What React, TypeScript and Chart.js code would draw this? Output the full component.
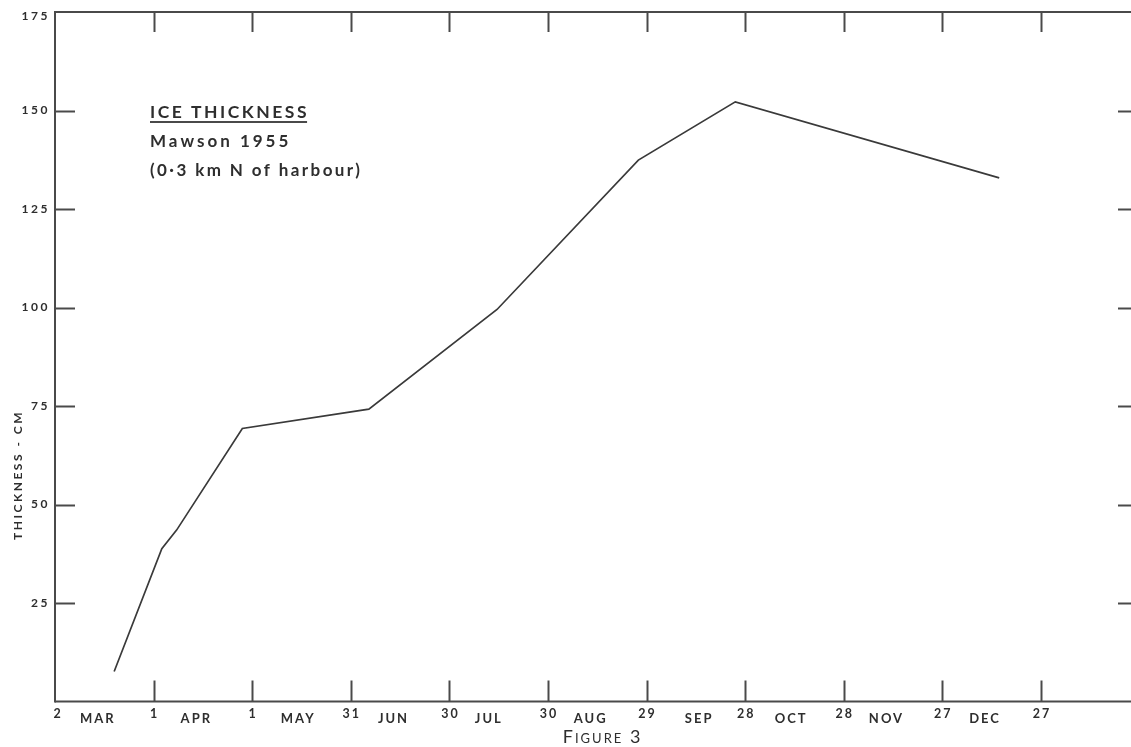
import React, { useEffect, useRef } from 'react';
import { Chart, registerables } from 'chart.js';

Chart.register(...registerables);

// Days after 2 March 1955 and measured ice thickness (cm)
const dayOffsets = [18, 32.5, 37, 57, 95.5, 134.5, 177.5, 207, 287.3];
const thicknessCm = [7.6, 38.8, 43.5, 69.3, 74.2, 99.5, 137.4, 152.2, 132.9];

// X axis: tick positions (days after 2 Mar) and their date labels
const xTickDays = [0, 30, 60, 90, 120, 150, 180, 210, 240, 270, 300];
const xTickLabels = ['2', '1', '1', '31', '30', '30', '29', '28', '28', '27', '27'];
const monthDays = [13, 43, 74, 103, 132, 163, 196, 224, 253, 283];
const monthLabels = ['MAR', 'APR', 'MAY', 'JUN', 'JUL', 'AUG', 'SEP', 'OCT', 'NOV', 'DEC'];

// Y axis ticks
const yTickValues = [25, 50, 75, 100, 125, 150, 175];
const yTickLabels = ['25', '50', '75', '100', '125', '150', '175'];

const titleLines = ['ICE THICKNESS', 'Mawson 1955', '(0·3 km N of harbour)'];
const yAxisTitle = 'THICKNESS - CM';
const figureCaption = 'Figure 3';

const X_MAX = 327.4;
const Y_MAX = 175;

const INK = '#2e2e2e';
const FONT = 'Lato, "Open Sans", sans-serif';

const figurePlugin = {
  id: 'figurePlugin',
  beforeDatasetsDraw(chart: any) {
    const { ctx, chartArea: a, scales } = chart;
    const x = scales.x;
    const y = scales.y;
    ctx.save();
    ctx.strokeStyle = '#4a4a4a';
    ctx.lineWidth = 2;
    ctx.lineCap = 'butt';
    const seg = (x1: number, y1: number, x2: number, y2: number) => {
      ctx.beginPath();
      ctx.moveTo(x1, y1);
      ctx.lineTo(x2, y2);
      ctx.stroke();
    };
    // frame
    seg(a.left, a.top - 1, a.left, a.bottom + 1);
    seg(a.left, a.top, a.right, a.top);
    seg(a.left, a.bottom, a.right, a.bottom);

    // x ticks (top & bottom, inward)
    xTickDays.forEach((d, i) => {
      if (i === 0) return;
      const px = Math.round(x.getPixelForValue(d)) + 0.5;
      seg(px, a.top, px, a.top + 20);
      seg(px, a.bottom, px, a.bottom - 21);
    });
    // y ticks (left & right, inward)
    yTickValues.forEach((v) => {
      if (v >= Y_MAX) return;
      const py = Math.round(y.getPixelForValue(v)) + 0.5;
      seg(a.left, py, a.left + 20, py);
      seg(a.right - 13, py, a.right, py);
    });

    ctx.fillStyle = INK;
    (ctx as any).letterSpacing = '2.5px';
    // y tick labels
    ctx.font = `bold 12px ${FONT}`;
    ctx.textAlign = 'right';
    ctx.textBaseline = 'middle';
    yTickValues.forEach((v, i) => {
      const py = y.getPixelForValue(v);
      ctx.fillText(yTickLabels[i], a.left - 5, v >= Y_MAX ? py + 4 : py);
    });

    // x tick labels
    ctx.textAlign = 'center';
    ctx.textBaseline = 'middle';
    (ctx as any).letterSpacing = '2px';
    ctx.font = `bold 12.5px ${FONT}`;
    xTickDays.forEach((d, i) => {
      const px = x.getPixelForValue(d);
      ctx.fillText(xTickLabels[i], px + 1 + (i === 0 ? 2 : 0), a.bottom + 12);
    });
    ctx.font = `bold 13px ${FONT}`;
    monthDays.forEach((d, i) => {
      const px = x.getPixelForValue(d);
      ctx.fillText(monthLabels[i], px, a.bottom + 17);
    });

    // figure caption
    (ctx as any).letterSpacing = '2px';
    ctx.font = `small-caps 18px ${FONT}`;
    ctx.textAlign = 'left';
    ctx.fillText(figureCaption, x.getPixelForValue(154.5), a.bottom + 36);

    // y axis title
    (ctx as any).letterSpacing = '2.5px';
    ctx.save();
    ctx.translate(18, y.getPixelForValue(57.5));
    ctx.rotate(-Math.PI / 2);
    ctx.font = `bold 12px ${FONT}`;
    ctx.textAlign = 'center';
    ctx.textBaseline = 'middle';
    ctx.fillText(yAxisTitle, 0, 0);
    ctx.restore();

    // title block
    const tx = a.left + 95;
    ctx.textAlign = 'left';
    ctx.textBaseline = 'alphabetic';
    (ctx as any).letterSpacing = '2.5px';
    ctx.font = `bold 17.5px ${FONT}`;
    ctx.fillText(titleLines[0], tx, 118);
    const w0 = ctx.measureText(titleLines[0]).width;
    ctx.lineWidth = 2.2;
    seg(tx, 122, tx + w0 - 2, 122);
    (ctx as any).letterSpacing = '3px';
    ctx.font = `bold 17px ${FONT}`;
    ctx.fillText(titleLines[1], tx, 147);
    (ctx as any).letterSpacing = '2.4px';
    ctx.font = `bold 17px ${FONT}`;
    ctx.fillText(titleLines[2], tx, 176);
    ctx.restore();
  },
};

export default function App() {
  const canvasRef = useRef<HTMLCanvasElement | null>(null);

  useEffect(() => {
    const canvas = canvasRef.current;
    if (!canvas) return;
    const points = dayOffsets.map((d, i) => ({ x: d, y: thicknessCm[i] }));
    const chart = new Chart(canvas, {
      type: 'line',
      data: {
        datasets: [
          {
            label: 'Ice thickness',
            data: points,
            borderColor: '#3a3a3a',
            borderWidth: 1.7,
            pointRadius: 0,
            tension: 0,
            fill: false,
          },
        ],
      },
      options: {
        animation: false,
        responsive: false,
        maintainAspectRatio: false,
        layout: { padding: { left: 55, top: 12, right: 0, bottom: 45.5 } },
        plugins: {
          legend: { display: false },
          tooltip: { enabled: false },
          title: { display: false },
        },
        scales: {
          x: { type: 'linear', min: 0, max: X_MAX, display: false },
          y: { type: 'linear', min: 0, max: Y_MAX, display: false },
        },
      },
      plugins: [figurePlugin],
    });
    return () => chart.destroy();
  }, []);

  return (
    <div style={{ position: 'fixed', left: 0, top: 0, width: 1131, height: 747, background: '#fff' }}>
      <canvas ref={canvasRef} width={1131} height={747} style={{ display: 'block' }} />
    </div>
  );
}
